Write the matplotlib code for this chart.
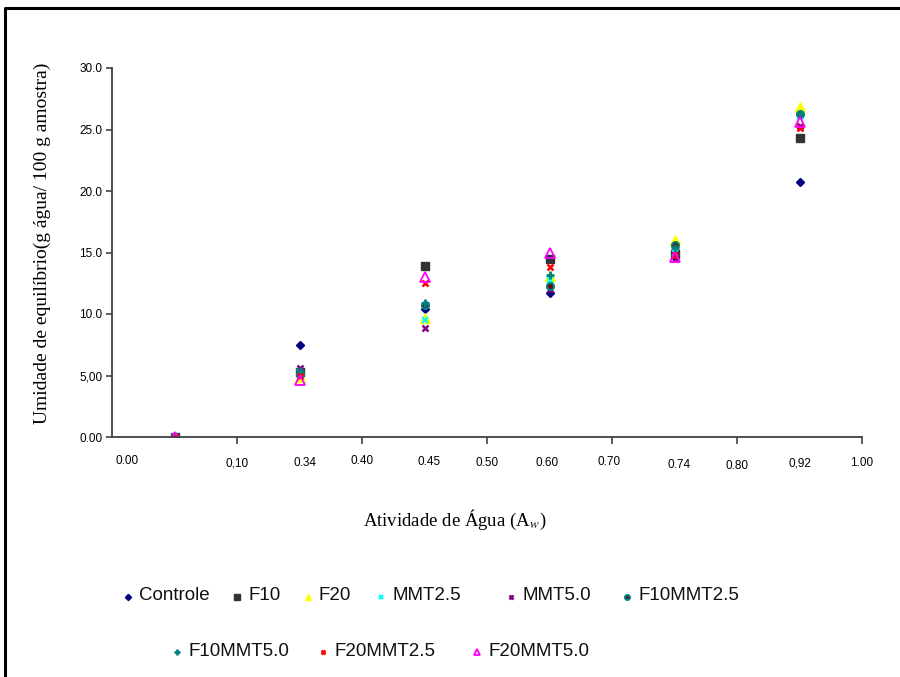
import matplotlib.pyplot as plt
from matplotlib.lines import Line2D

plt.rcParams['mathtext.fontset'] = 'stix'

# categories (water activity) - points sit in the middle of each category slot
aw = ['0.00', '0.34', '0.45', '0.60', '0.74', '0.92']

series = ['Controle', 'F10', 'F20', 'MMT2.5', 'MMT5.0',
          'F10MMT2.5', 'F10MMT5.0', 'F20MMT2.5', 'F20MMT5.0']

controle = [0.0, 7.5, 10.4, 11.7, 14.6, 20.7]
f10 = [0.0, 5.3, 13.9, 14.5, 14.9, 24.3]
f20 = [0.0, 4.9, 9.7, 13.1, 16.0, 26.8]
mmt25 = [0.0, 5.3, 9.5, 12.8, 15.0, 26.0]
mmt50 = [0.0, 5.6, 8.9, 12.0, 14.5, 25.3]
f10mmt25 = [0.0, 5.1, 10.7, 12.3, 15.6, 26.3]
f10mmt50 = [0.0, 5.4, 10.9, 13.2, 15.4, 26.3]
f20mmt25 = [0.0, 5.0, 12.5, 13.8, 14.8, 25.1]
f20mmt50 = [0.0, 4.6, 13.0, 15.0, 14.6, 25.6]
values = [controle, f10, f20, mmt25, mmt50, f10mmt25, f10mmt50, f20mmt25, f20mmt50]

# marker styles (Excel-like)
styles = [
    dict(marker='D', color='#000080', ms=4.5, mfc='#000080', mec='#000080'),
    dict(marker='s', color='#333333', ms=5.5, mfc='#333333', mec='#333333'),
    dict(marker='^', color='#FFFF00', ms=6.5, mfc='#FFFF00', mec='#FFFF00'),
    dict(marker='x', color='#00FFFF', ms=4.5, mew=1.5),
    dict(marker='x', color='#800080', ms=4.5, mew=1.8),
    dict(marker='o', color='#800000', ms=5, mfc='#800000', mec='#008080', mew=1.5),
    dict(marker='+', color='#008080', ms=5.5, mew=2),
    dict(marker='x', color='#FF0000', ms=4.5, mew=1.8),
    dict(marker='^', color='#FF00FF', ms=6.5, mfc='none', mec='#FF00FF', mew=1.3),
]

# x-axis labels as printed in the original
xlabels = ['0.00', '0,10', '0.34', '0.40', '0.45', '0.50', '0.60', '0.70', '0.74', '0.80', '0,92', '1.00']
xlabel_pos = [0.12, 1.0, 1.54, 2.0, 2.54, 3.0, 3.48, 3.98, 4.54, 5.0, 5.5, 6.0]
xlabel_y = [461, 463, 463, 461, 462, 463, 463, 462, 465, 466, 463, 463]

W, H = 900, 677
fig = plt.figure(figsize=(9, 6.77), dpi=100)
ax = fig.add_axes([112 / W, 1 - 437 / H, 750 / W, 369 / H])

for name, vals, st in zip(series, values, styles):
    ax.plot([i + 0.5 for i in range(len(aw))], vals, linestyle='none', label=name, **st)

ax.set_xlim(0, 6)
ax.set_ylim(0, 30)
for s in ['top', 'right']:
    ax.spines[s].set_visible(False)
for s in ['left', 'bottom']:
    ax.spines[s].set_color('#404040')
    ax.spines[s].set_linewidth(1.3)

ax.set_yticks([0, 5, 10, 15, 20, 25, 30])
ax.set_yticklabels(['0.00', '5,00', '10.0', '15.0', '20.0', '25.0', '30.0'],
                   fontfamily='Liberation Sans', fontsize=8.5)
ax.tick_params(axis='y', direction='out', length=4, width=1.2, color='#404040', pad=3)
ax.set_xticks([1, 2, 3, 4, 5, 6])
ax.set_xticklabels([])
ax.tick_params(axis='x', direction='out', length=5, width=1.2, color='#404040')

for lab, xp, yp in zip(xlabels, xlabel_pos, xlabel_y):
    fig.text((112 + xp * 125) / W, 1 - yp / H, lab, ha='center', va='center',
             fontfamily='Liberation Sans', fontsize=8.5)

serif = 'Liberation Serif'
fig.text(42 / W, 1 - 243 / H, 'Umidade de equilíbrio(g água/ 100 g amostra)',
         rotation=90, ha='center', va='center', fontfamily=serif, fontsize=14)
fig.text(455 / W, 1 - 520 / H, 'Atividade de Água (A$_{w}$)', ha='center', va='center',
         fontfamily=serif, fontsize=13.5)

# legend, laid out as in the original (two irregular rows)
leg_marker_x = [128, 237, 308, 381, 511, 627, 177, 323, 477]
leg_y = [597, 597, 597, 597, 597, 597, 652, 652, 652]
for name, st, mx, my in zip(series, styles, leg_marker_x, leg_y):
    st2 = dict(st)
    st2['ms'] = st2['ms'] * 0.7
    fig.add_artist(Line2D([mx / W], [1 - my / H], linestyle='none',
                          transform=fig.transFigure, **st2))
    fig.text((mx + 11) / W, 1 - (my - 1) / H, name, ha='left', va='center',
             fontfamily='Liberation Sans', fontsize=13.5, color='#111111')

# frame around the chart area
fig.add_artist(Line2D([5 / W, 5 / W, 1.0], [0.0, 1 - 8 / H, 1 - 8 / H],
                      transform=fig.transFigure, color='black', lw=2.2))

fig.savefig('out.png', dpi=100)
